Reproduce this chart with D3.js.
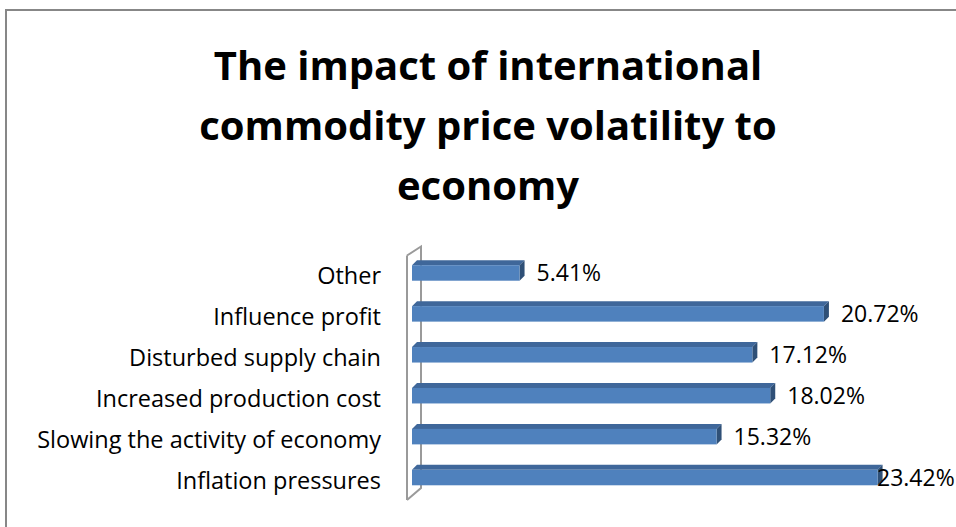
<!DOCTYPE html>
<html>
<head>
<meta charset="utf-8">
<script src="https://cdn.jsdelivr.net/npm/d3@7"></script>
<style>
  body { margin: 0; background: #fff; }
  #container { width: 956px; height: 527px; }
</style>
</head>
<body>
<div id="container"></div>
<script>
var categories = ['Other', 'Influence profit', 'Disturbed supply chain',
	'Increased production cost', 'Slowing the activity of economy', 'Inflation pressures'];
var values = [5.41, 20.72, 17.12, 18.02, 15.32, 23.42];
var titleLines = ['The impact of international', 'commodity price volatility to', 'economy'];

var width = 956,
	height = 527;

var svg = d3.select('#container').append('svg')
	.attr('width', width)
	.attr('height', height)
	.style('font-family', '"Open Sans", sans-serif');

draw();

function draw() {

	// chart area border (runs off the right and bottom of the picture)
	svg.append('rect')
		.attr('x', 6)
		.attr('y', 10)
		.attr('width', 980)
		.attr('height', 540)
		.style('fill', '#fff')
		.attr('stroke', '#878787')
		.attr('stroke-width', 2);

	svg.append('g')
		.selectAll('text')
		.data(titleLines)
		.enter().append('text')
		.attr('x', 488)
		.attr('y', function(d, i) { return 80 + i * 60; })
		.attr('text-anchor', 'middle')
		.style('font-size', '40px')
		.style('font-weight', 'bold')
		.text(function(d) { return d; });

	var x = d3.scaleLinear()
		.domain([0, 25])
		.range([412, 909]);

	var y = d3.scaleBand()
		.domain(categories)
		.range([252.5, 498]);

	var barH = 15.5;
	var depth = 5;        // 3d offset of the bars
	var wallDx = 14, wallDy = 9;

	// back wall line
	svg.append('path')
		.attr('d', 'M407,' + (y.range()[0] + 3) + 'L' + (407 + wallDx) + ',' + (y.range()[0] + 3 - wallDy) +
			'L' + (407 + wallDx) + ',' + (y.range()[1] - 10) + 'L407,' + (y.range()[1] - 10 + wallDy + 3))
		.style('fill', 'none')
		.attr('stroke', '#9a9a9a')
		.attr('stroke-width', 2);

	var bars = svg.append('g')
		.selectAll('g')
		.data(values)
		.enter().append('g');

	function top(d, i) { return y(categories[i]) + y.bandwidth() / 2 - barH / 2; }

	// top face
	bars.append('path')
		.attr('d', function(d, i) {
			var t = top(d, i), x0 = x(0), x1 = x(d);
			return 'M' + x0 + ',' + t + 'L' + (x0 + depth) + ',' + (t - depth) +
				'L' + (x1 + depth) + ',' + (t - depth) + 'L' + x1 + ',' + t + 'Z';
		})
		.style('fill', '#3f679a');

	// side face
	bars.append('path')
		.attr('d', function(d, i) {
			var t = top(d, i), x1 = x(d);
			return 'M' + x1 + ',' + t + 'L' + (x1 + depth) + ',' + (t - depth) +
				'L' + (x1 + depth) + ',' + (t + barH - depth) + 'L' + x1 + ',' + (t + barH) + 'Z';
		})
		.style('fill', '#2f5077');

	// front face
	bars.append('rect')
		.attr('x', x(0))
		.attr('y', function(d, i) { return top(d, i); })
		.attr('width', function(d) { return x(d) - x(0); })
		.attr('height', barH)
		.style('fill', '#4f81bd');

	// front wall line
	svg.append('line')
		.attr('x1', 407)
		.attr('x2', 407)
		.attr('y1', y.range()[0] + 3)
		.attr('y2', y.range()[1] + 2)
		.attr('stroke', '#9a9a9a')
		.attr('stroke-width', 2);

	// category labels
	svg.append('g')
		.selectAll('text')
		.data(categories)
		.enter().append('text')
		.attr('x', 381)
		.attr('y', function(d) { return y(d) + y.bandwidth() / 2 + 5; })
		.attr('text-anchor', 'end')
		.attr('dominant-baseline', 'middle')
		.style('font-size', '23.5px')
		.text(function(d) { return d; });

	// value labels, pulled in when they would run past the plot area
	svg.append('g')
		.selectAll('text')
		.data(values)
		.enter().append('text')
		.attr('x', function(d) { return Math.min(x(d) + 17, 877); })
		.attr('y', function(d, i) { return y(categories[i]) + y.bandwidth() / 2 + 2; })
		.attr('dominant-baseline', 'middle')
		.style('font-size', '23px')
		.text(function(d) { return d.toFixed(2) + '%'; });
}
</script>
</body>
</html>
